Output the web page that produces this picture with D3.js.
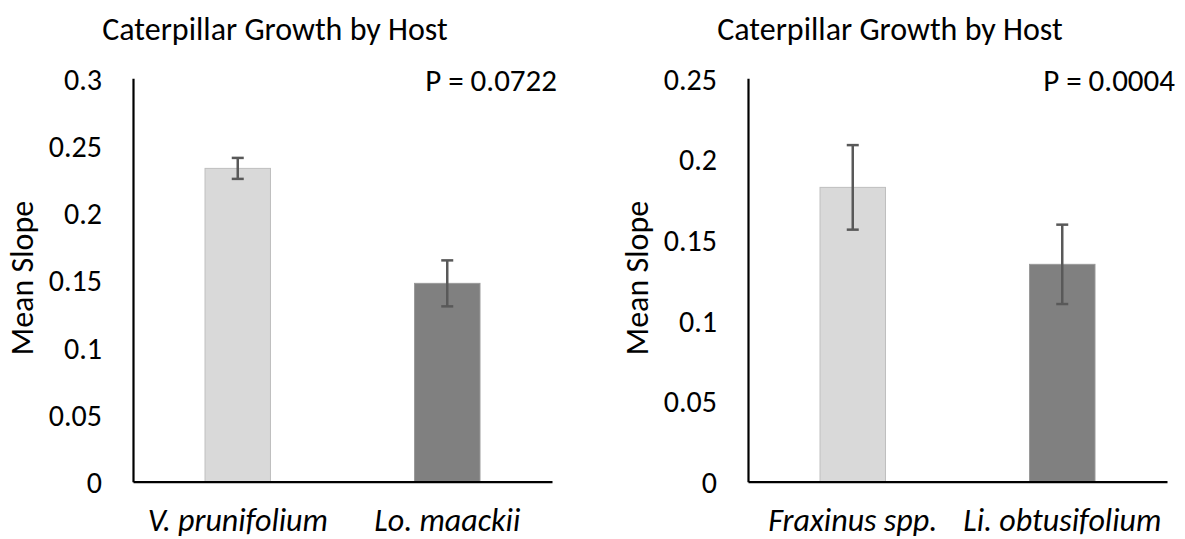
<!DOCTYPE html>
<html>
<head>
<meta charset="utf-8">
<script src="https://cdnjs.cloudflare.com/ajax/libs/d3/7.8.5/d3.min.js"></script>
<style>
  body { margin: 0; background: #fff; }
  svg text { font-family: "Carlito", "Lato", sans-serif; fill: #000; }
</style>
</head>
<body>
<svg width="1185" height="539"></svg>
<script>
var title = "Caterpillar Growth by Host";
var yLabel = "Mean Slope";

// left panel
var hostsA = ["V. prunifolium", "Lo. maackii"];
var slopeA = [0.233, 0.1475];
var errA = [0.0078, 0.0171];
var ticksA = [0, 0.05, 0.1, 0.15, 0.2, 0.25, 0.3];
var pA = "P = 0.0722";

// right panel
var hostsB = ["Fraxinus spp.", "Li. obtusifolium"];
var slopeB = [0.1824, 0.1347];
var errB = [0.0262, 0.0246];
var ticksB = [0, 0.05, 0.1, 0.15, 0.2, 0.25];
var pB = "P = 0.0004";

var fills = ["#d9d9d9", "#808080"];
var strokes = ["#bfbfbf", "#999999"];

var svg = d3.select("svg");

function panel(left, right, titleX, pRight, hosts, slope, err, ticks, pText) {
  var top = 78.3, bottom = 481.7;

  var x = d3.scaleBand()
      .domain(hosts)
      .range([left, right]);

  var y = d3.scaleLinear()
      .domain([0, d3.max(ticks)])
      .range([bottom, top]);

  var barW = x.bandwidth() * 0.3125;
  var g = svg.append("g");

  var rows = hosts.map(function(h, i) {
    return { host: h, value: slope[i], err: err[i], i: i };
  });

  g.selectAll("rect")
    .data(rows)
    .enter().append("rect")
      .attr("x", function(d) { return x(d.host) + x.bandwidth() / 2 - barW / 2; })
      .attr("y", function(d) { return y(d.value); })
      .attr("width", barW)
      .attr("height", function(d) { return y(0) - y(d.value); })
      .attr("fill", function(d) { return fills[d.i]; })
      .attr("stroke", function(d) { return strokes[d.i]; })
      .attr("stroke-width", 1);

  // error bars
  var eb = g.selectAll(".err")
    .data(rows)
    .enter().append("g")
      .attr("class", "err")
      .attr("stroke", "#595959")
      .attr("stroke-width", 2.5);

  eb.append("line")
      .attr("x1", function(d) { return x(d.host) + x.bandwidth() / 2; })
      .attr("x2", function(d) { return x(d.host) + x.bandwidth() / 2; })
      .attr("y1", function(d) { return y(d.value + d.err); })
      .attr("y2", function(d) { return y(d.value - d.err); });

  [1, -1].forEach(function(s) {
    eb.append("line")
        .attr("x1", function(d) { return x(d.host) + x.bandwidth() / 2 - 6; })
        .attr("x2", function(d) { return x(d.host) + x.bandwidth() / 2 + 6; })
        .attr("y1", function(d) { return y(d.value + s * d.err); })
        .attr("y2", function(d) { return y(d.value + s * d.err); });
  });

  // y axis
  var yAxis = g.append("g")
      .attr("transform", "translate(" + left + ",0)")
      .call(d3.axisLeft(y).tickValues(ticks).tickSize(0).tickPadding(31)
        .tickFormat(d3.format("~g")));
  yAxis.select(".domain").attr("stroke", "#000").attr("stroke-width", 2.2);
  yAxis.selectAll("text").style("font-size", "30px").attr("dy", "0.36em");

  // x axis
  var xAxis = g.append("g")
      .attr("transform", "translate(0," + bottom + ")")
      .call(d3.axisBottom(x).tickSize(0).tickPadding(27));
  xAxis.select(".domain").attr("stroke", "#000").attr("stroke-width", 2.2);
  xAxis.selectAll("text").style("font-size", "32px").style("font-style", "italic");

  g.append("text")
      .attr("x", titleX)
      .attr("y", 40)
      .attr("text-anchor", "middle")
      .style("font-size", "32px")
      .text(title);

  g.append("text")
      .attr("x", pRight)
      .attr("y", 91)
      .attr("text-anchor", "end")
      .style("font-size", "31px")
      .text(pText);

  g.append("text")
      .attr("transform", "translate(" + (left - 100) + "," + 278 + ") rotate(-90)")
      .attr("text-anchor", "middle")
      .style("font-size", "32px")
      .text(yLabel);
}

panel(133, 552, 275, 557, hostsA, slopeA, errA, ticksA, pA);
panel(748, 1167, 890, 1175, hostsB, slopeB, errB, ticksB, pB);
</script>
</body>
</html>
